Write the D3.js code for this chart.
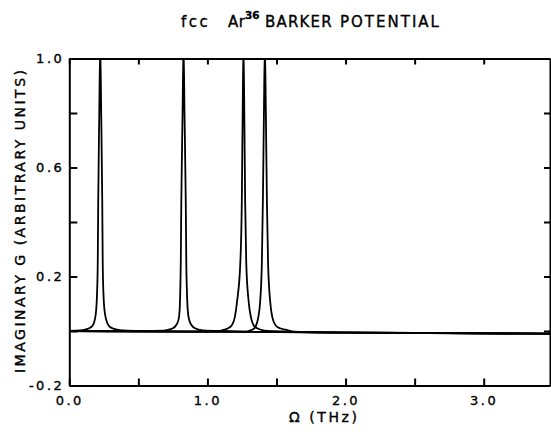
<!DOCTYPE html>
<html>
<head>
<meta charset="utf-8">
<script src="https://cdn.jsdelivr.net/npm/d3@7"></script>
<style>
	body { margin: 0; background: #fff; }
	svg { display: block; }
	.axis path, .axis line { stroke: #000; stroke-width: 2; }
	.axis text { font-family: "DejaVu Sans", sans-serif; font-size: 13px; letter-spacing: 2.5px; fill: #000; stroke: #000; stroke-width: 0.35; }
	.label { font-family: "DejaVu Sans", sans-serif; fill: #000; stroke: #000; stroke-width: 0.35; }
	.curve { fill: none; stroke: #000; stroke-width: 1.8; stroke-linejoin: round; }
</style>
</head>
<body>
<svg class="chart"></svg>
<script>
/* Imaginary part of G for fcc Ar36, Barker potential */

// Peak 1 (~0.22 THz)
var omega1 = [0.000, 0.079, 0.115, 0.144, 0.166, 0.184, 0.195, 0.201, 0.206, 0.2095, 0.217, 0.224, 0.231, 0.2385, 0.242, 0.247, 0.254, 0.268, 0.288, 0.312, 0.344, 0.384, 0.600, 1.500, 2.500, 3.480];
var g1     = [0.000, 0.002, 0.005, 0.010, 0.018, 0.040, 0.080, 0.140, 0.250, 0.480, 0.800, 1.050, 0.800, 0.480, 0.250, 0.140, 0.080, 0.040, 0.018, 0.010, 0.005, 0.002, -0.001, -0.004, -0.007, -0.010];

// Peak 2 (~0.83 THz)
var omega2 = [0.000, 0.400, 0.680, 0.715, 0.745, 0.767, 0.790, 0.799, 0.803, 0.807, 0.811, 0.820, 0.827, 0.834, 0.843, 0.847, 0.852, 0.857, 0.868, 0.892, 0.915, 0.945, 0.990, 1.500, 2.500, 3.480];
var g2     = [0.000, -0.001, 0.001, 0.004, 0.009, 0.017, 0.040, 0.080, 0.140, 0.250, 0.480, 0.800, 1.050, 0.800, 0.480, 0.250, 0.140, 0.080, 0.040, 0.017, 0.009, 0.004, 0.001, -0.004, -0.007, -0.010];

// Peak 3 (~1.26 THz)
var omega3 = [0.000, 0.800, 1.080, 1.110, 1.150, 1.175, 1.198, 1.215, 1.238, 1.249, 1.255, 1.261, 1.267, 1.273, 1.281, 1.298, 1.315, 1.335, 1.360, 1.390, 1.430, 2.000, 3.480];
var g3     = [0.000, -0.002, 0.000, 0.003, 0.010, 0.020, 0.050, 0.110, 0.250, 0.480, 0.800, 1.050, 0.800, 0.480, 0.250, 0.110, 0.050, 0.020, 0.010, 0.004, 0.000, -0.006, -0.010];

// Peak 4 (~1.42 THz)
var omega4 = [0.000, 1.000, 1.280, 1.310, 1.335, 1.352, 1.368, 1.382, 1.394, 1.4015, 1.409, 1.416, 1.423, 1.4305, 1.439, 1.454, 1.470, 1.495, 1.525, 1.565, 1.620, 2.000, 3.480];
var g4     = [0.000, -0.003, -0.002, 0.002, 0.008, 0.020, 0.050, 0.110, 0.250, 0.480, 0.800, 1.050, 0.800, 0.480, 0.250, 0.110, 0.050, 0.020, 0.010, 0.005, -0.002, -0.006, -0.010];

// Ticks and labels
var xTicks = [0, 0.5, 1.0, 1.5, 2.0, 2.5, 3.0];
var xLabels = ["0.0", "1.0", "2.0", "3.0"];
var yTicks = [-0.2, 0, 0.2, 0.4, 0.6, 0.8, 1.0];
var yLabels = ["-0.2", "0.2", "0.6", "1.0"];

function drawChart() {
	var margin = {top: 58.5, right: 1, bottom: 48.5, left: 69.3},
		width = 551 - margin.left - margin.right,
		height = 434 - margin.top - margin.bottom;

	var x = d3.scaleLinear()
		.domain([0, 3.48])
		.range([0, width]);

	var y = d3.scaleLinear()
		.domain([-0.2, 1.0])
		.range([height, 0]);

	var svg = d3.select(".chart")
		.attr("width", 551)
		.attr("height", 434);

	var chart = svg.append("g")
		.attr("transform", "translate(" + margin.left + "," + margin.top + ")");

	chart.append("clipPath")
		.attr("id", "plotclip")
	  .append("rect")
		.attr("width", width)
		.attr("height", height);

	// label only some ticks
	var xFmt = function(d) { var s = d.toFixed(1); return xLabels.indexOf(s) >= 0 ? s : ""; };
	var yFmt = function(d) { var s = d.toFixed(1).replace("−", "-"); return yLabels.indexOf(s) >= 0 ? s : ""; };

	chart.append("g")
		.attr("class", "axis")
		.attr("transform", "translate(0," + height + ")")
		.call(d3.axisBottom(x).tickValues(xTicks).tickFormat(xFmt).tickSizeInner(-7).tickSizeOuter(0).tickPadding(10));

	chart.append("g")
		.attr("class", "axis")
		.call(d3.axisTop(x).tickValues(xTicks).tickFormat("").tickSizeInner(-6).tickSizeOuter(0));

	chart.append("g")
		.attr("class", "axis")
		.call(d3.axisLeft(y).tickValues(yTicks).tickFormat(yFmt).tickSizeInner(-8).tickSizeOuter(0).tickPadding(5));

	chart.append("g")
		.attr("class", "axis")
		.attr("transform", "translate(" + width + ",0)")
		.call(d3.axisRight(y).tickValues(yTicks).tickFormat("").tickSizeInner(-6).tickSizeOuter(0));

	// curves
	var peaks = [[omega1, g1], [omega2, g2], [omega3, g3], [omega4, g4]];
	var line = d3.line()
		.x(function(d) { return x(d[0]); })
		.y(function(d) { return y(d[1]); })
		.curve(d3.curveMonotoneX);

	chart.append("g")
		.attr("clip-path", "url(#plotclip)")
		.selectAll(".curve")
		.data(peaks)
	  .enter().append("path")
		.attr("class", "curve")
		.attr("d", function(p) { return line(d3.zip(p[0], p[1])); });

	// title
	var title = [
		{t: "fcc", x: 181, size: 15, yy: 27, ls: 2.5},
		{t: "Ar", x: 228, size: 15, yy: 27, ls: 0.5},
		{t: "36", x: 245, size: 10.5, yy: 19, ls: 0, bold: true},
		{t: "BARKER", x: 265, size: 15, yy: 27, ls: 1.2},
		{t: "POTENTIAL", x: 340, size: 15, yy: 27, ls: 2}
	];
	svg.selectAll(".tpart")
		.data(title)
	  .enter().append("text")
		.attr("class", "label tpart")
		.attr("x", function(d) { return d.x; })
		.attr("y", function(d) { return d.yy; })
		.attr("font-size", function(d) { return d.size + "px"; })
		.attr("font-weight", function(d) { return d.bold ? "bold" : "normal"; })
		.style("letter-spacing", function(d) { return d.ls + "px"; })
		.text(function(d) { return d.t; });

	// axis titles
	svg.append("text")
		.attr("class", "label")
		.attr("x", 289)
		.attr("y", 422)
		.attr("font-size", "14px")
		.attr("textLength", 68)
		.attr("lengthAdjust", "spacing")
		.text("Ω (THz)");

	svg.append("text")
		.attr("class", "label")
		.attr("transform", "translate(25,373) rotate(-90)")
		.attr("font-size", "14px")
		.attr("textLength", 303)
		.attr("lengthAdjust", "spacing")
		.text("IMAGINARY G (ARBITRARY UNITS)");
}

drawChart();
</script>
</body>
</html>
